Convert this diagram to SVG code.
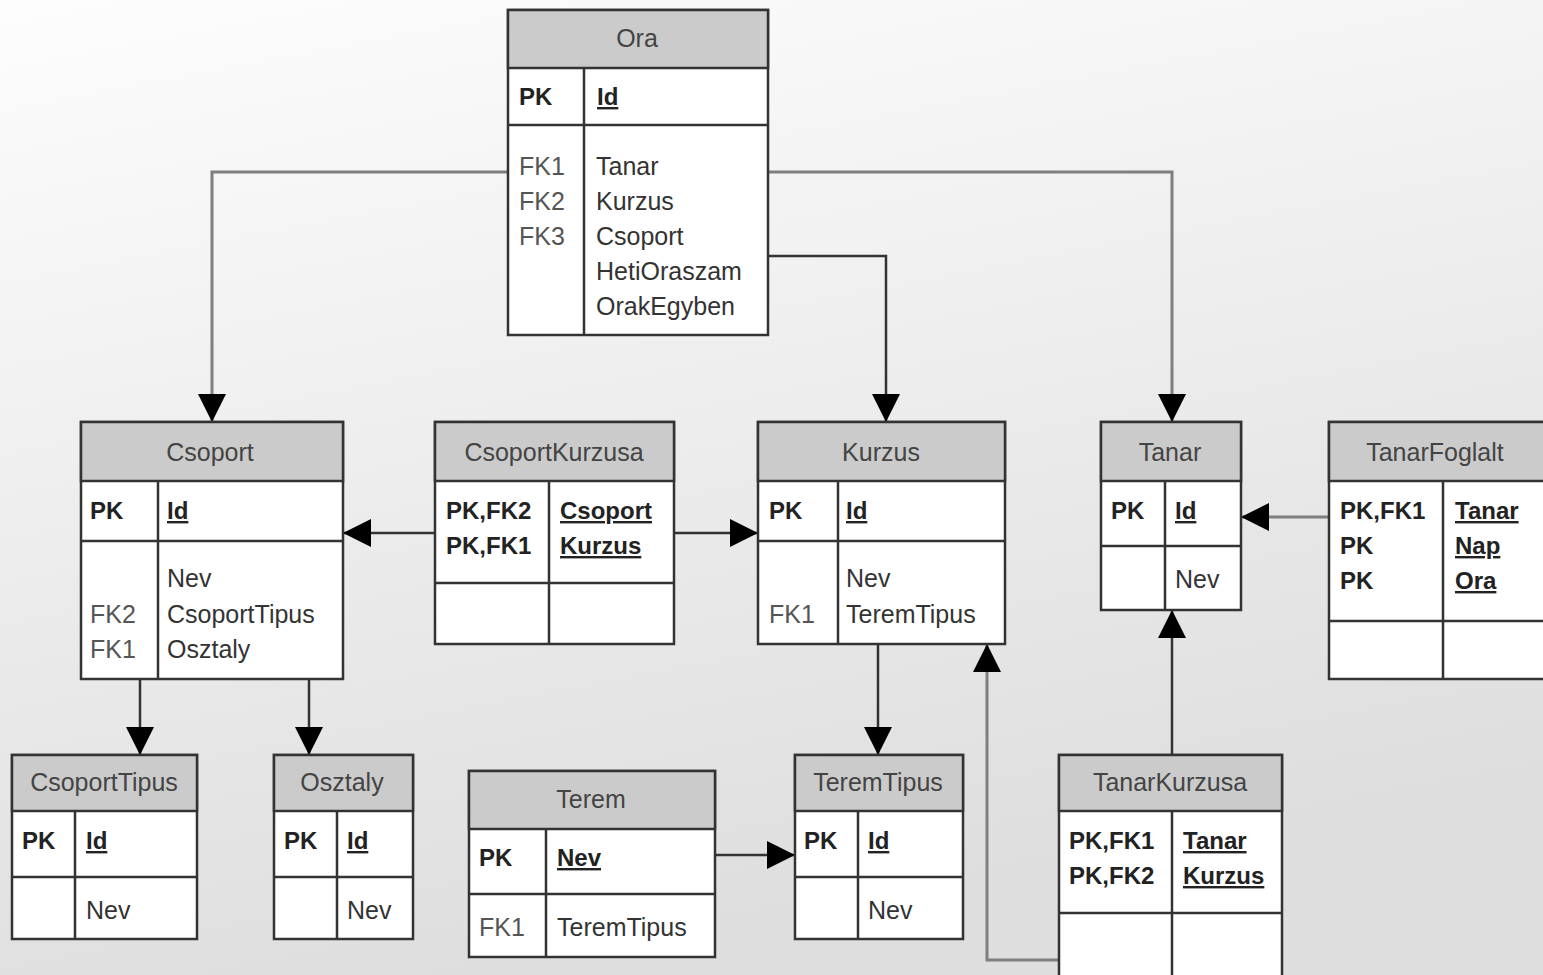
<svg xmlns="http://www.w3.org/2000/svg" width="1543" height="975" viewBox="0 0 1543 975">
<defs>
<linearGradient id="bg" x1="0" y1="0" x2="0.3" y2="1">
<stop offset="0" stop-color="#fdfdfd"/>
<stop offset="1" stop-color="#dedede"/>
</linearGradient>
<marker id="arr" markerUnits="userSpaceOnUse" markerWidth="28" markerHeight="28" refX="28" refY="14" orient="auto" viewBox="0 0 28 28">
<path d="M0,0 L28,14 L0,28 Z" fill="#000"/>
</marker>
<style>
.box{fill:#fff;stroke:#333;stroke-width:2.5}
.hdr{fill:#cbcbcb;stroke:#333;stroke-width:2.5}
.grid{fill:none;stroke:#333;stroke-width:2.5}
text{font-family:"Liberation Sans",Arial,sans-serif;font-size:25px;fill:#333}
.t{text-anchor:middle;fill:#444}
.b{font-weight:bold;font-size:24px;fill:#222}
.u{text-decoration:underline}
.fk{fill:#555}
.c{fill:none;stroke-width:2.5;marker-end:url(#arr)}
.dk{stroke:#333}
.lt{stroke:#7f7f7f;stroke-width:3}
</style>
</defs>
<rect x="0" y="0" width="1543" height="975" fill="url(#bg)"/>

<g id="connectors">
<path class="c lt" d="M508,172 H212 V422"/>
<path class="c lt" d="M768,172 H1172 V422"/>
<path class="c dk" d="M768,256 H886 V422"/>
<path class="c dk" d="M435,533 H343"/>
<path class="c dk" d="M674,533 H758"/>
<path class="c lt" d="M1329,517 H1241"/>
<path class="c dk" d="M1172,755 V610"/>
<path class="c lt" d="M1059,960 H987 V644"/>
<path class="c dk" d="M878,644 V755"/>
<path class="c dk" d="M715,855 H795"/>
<path class="c dk" d="M140,679 V755"/>
<path class="c dk" d="M309,679 V755"/>
</g>

<g id="Ora">
<rect class="box" x="508" y="10" width="260" height="325"/>
<rect class="hdr" x="508" y="10" width="260" height="58"/>
<path class="grid" d="M508,125 H768 M584,68 V335"/>
<text class="t" x="637" y="47">Ora</text>
<text class="b" x="519" y="105">PK</text>
<text class="b u" x="597" y="105">Id</text>
<text class="fk" x="519" y="175">FK1</text>
<text class="fk" x="519" y="210">FK2</text>
<text class="fk" x="519" y="245">FK3</text>
<text x="596" y="175">Tanar</text>
<text x="596" y="210">Kurzus</text>
<text x="596" y="245">Csoport</text>
<text x="596" y="280">HetiOraszam</text>
<text x="596" y="315">OrakEgyben</text>
</g>

<g id="Csoport">
<rect class="box" x="81" y="422" width="262" height="257"/>
<rect class="hdr" x="81" y="422" width="262" height="59"/>
<path class="grid" d="M81,541 H343 M158,481 V679"/>
<text class="t" x="210" y="461">Csoport</text>
<text class="b" x="90" y="519">PK</text>
<text class="b u" x="167" y="519">Id</text>
<text x="167" y="587">Nev</text>
<text class="fk" x="90" y="623">FK2</text>
<text x="167" y="623">CsoportTipus</text>
<text class="fk" x="90" y="658">FK1</text>
<text x="167" y="658">Osztaly</text>
</g>

<g id="CsoportKurzusa">
<rect class="box" x="435" y="422" width="239" height="222"/>
<rect class="hdr" x="435" y="422" width="239" height="59"/>
<path class="grid" d="M435,583 H674 M549,481 V644"/>
<text class="t" x="554" y="461">CsoportKurzusa</text>
<text class="b" x="446" y="519">PK,FK2</text>
<text class="b" x="446" y="554">PK,FK1</text>
<text class="b u" x="560" y="519">Csoport</text>
<text class="b u" x="560" y="554">Kurzus</text>
</g>

<g id="Kurzus">
<rect class="box" x="758" y="422" width="247" height="222"/>
<rect class="hdr" x="758" y="422" width="247" height="59"/>
<path class="grid" d="M758,541 H1005 M838,481 V644"/>
<text class="t" x="881" y="461">Kurzus</text>
<text class="b" x="769" y="519">PK</text>
<text class="b u" x="846" y="519">Id</text>
<text x="846" y="587">Nev</text>
<text class="fk" x="769" y="623">FK1</text>
<text x="846" y="623">TeremTipus</text>
</g>

<g id="Tanar">
<rect class="box" x="1101" y="422" width="140" height="188"/>
<rect class="hdr" x="1101" y="422" width="140" height="59"/>
<path class="grid" d="M1101,546 H1241 M1165,481 V610"/>
<text class="t" x="1170" y="461">Tanar</text>
<text class="b" x="1111" y="519">PK</text>
<text class="b u" x="1175" y="519">Id</text>
<text x="1175" y="588">Nev</text>
</g>

<g id="TanarFoglalt">
<rect class="box" x="1329" y="422" width="230" height="257"/>
<rect class="hdr" x="1329" y="422" width="230" height="59"/>
<path class="grid" d="M1329,621 H1559 M1443,481 V679"/>
<text class="t" x="1435" y="461">TanarFoglalt</text>
<text class="b" x="1340" y="519">PK,FK1</text>
<text class="b" x="1340" y="554">PK</text>
<text class="b" x="1340" y="589">PK</text>
<text class="b u" x="1455" y="519">Tanar</text>
<text class="b u" x="1455" y="554">Nap</text>
<text class="b u" x="1455" y="589">Ora</text>
</g>

<g id="CsoportTipus">
<rect class="box" x="12" y="755" width="185" height="184"/>
<rect class="hdr" x="12" y="755" width="185" height="56"/>
<path class="grid" d="M12,877 H197 M75,811 V939"/>
<text class="t" x="104" y="791">CsoportTipus</text>
<text class="b" x="22" y="849">PK</text>
<text class="b u" x="86" y="849">Id</text>
<text x="86" y="919">Nev</text>
</g>

<g id="Osztaly">
<rect class="box" x="274" y="755" width="139" height="184"/>
<rect class="hdr" x="274" y="755" width="139" height="56"/>
<path class="grid" d="M274,877 H413 M337,811 V939"/>
<text class="t" x="342" y="791">Osztaly</text>
<text class="b" x="284" y="849">PK</text>
<text class="b u" x="347" y="849">Id</text>
<text x="347" y="919">Nev</text>
</g>

<g id="Terem">
<rect class="box" x="469" y="771" width="246" height="186"/>
<rect class="hdr" x="469" y="771" width="246" height="58"/>
<path class="grid" d="M469,894 H715 M546,829 V957"/>
<text class="t" x="591" y="808">Terem</text>
<text class="b" x="479" y="866">PK</text>
<text class="b u" x="557" y="866">Nev</text>
<text class="fk" x="479" y="936">FK1</text>
<text x="557" y="936">TeremTipus</text>
</g>

<g id="TeremTipus">
<rect class="box" x="795" y="755" width="168" height="184"/>
<rect class="hdr" x="795" y="755" width="168" height="56"/>
<path class="grid" d="M795,877 H963 M858,811 V939"/>
<text class="t" x="878" y="791">TeremTipus</text>
<text class="b" x="804" y="849">PK</text>
<text class="b u" x="868" y="849">Id</text>
<text x="868" y="919">Nev</text>
</g>

<g id="TanarKurzusa">
<rect class="box" x="1059" y="755" width="223" height="240"/>
<rect class="hdr" x="1059" y="755" width="223" height="56"/>
<path class="grid" d="M1059,913 H1282 M1172,811 V995"/>
<text class="t" x="1170" y="791">TanarKurzusa</text>
<text class="b" x="1069" y="849">PK,FK1</text>
<text class="b" x="1069" y="884">PK,FK2</text>
<text class="b u" x="1183" y="849">Tanar</text>
<text class="b u" x="1183" y="884">Kurzus</text>
</g>
</svg>
